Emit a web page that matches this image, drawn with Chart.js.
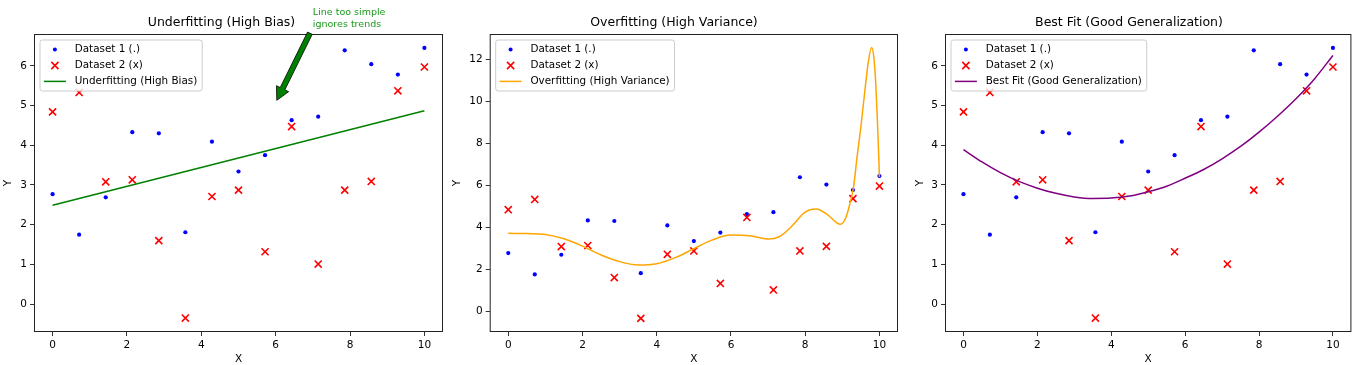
<!DOCTYPE html>
<html>
<head>
<meta charset="utf-8">
<script src="https://cdn.jsdelivr.net/npm/chart.js@4.4.0/dist/chart.umd.min.js"></script>
<style>
  body { margin: 0; background: #fff; }
  #wrap { position: relative; width: 1358px; height: 365px; }
  #wrap canvas { position: absolute; top: 0; }
</style>
</head>
<body>
<div id="wrap">
  <canvas id="under" width="450" height="365" style="left:0px"></canvas>
  <canvas id="over" width="455" height="365" style="left:450px"></canvas>
  <canvas id="best" width="453" height="365" style="left:905px"></canvas>
</div>
<script>
// shared sample points (15 evenly spaced x)
const xs = [0, 0.714, 1.429, 2.143, 2.857, 3.571, 4.286, 5, 5.714, 6.429, 7.143, 7.857, 8.571, 9.286, 10];
const dataset1 = [2.77, 1.75, 2.69, 4.33, 4.30, 1.81, 4.09, 3.34, 3.75, 4.63, 4.72, 6.39, 6.04, 5.78, 6.45];
const dataset2 = [4.84, 5.33, 3.08, 3.13, 1.60, -0.35, 2.71, 2.87, 1.32, 4.47, 1.01, 2.87, 3.09, 5.37, 5.97];

// fitted curves
const underX = [0, 10];
const underY = [2.49, 4.87];

const overX = [0, 0.5, 1, 1.5, 2, 2.5, 3, 3.5, 4, 4.5, 5, 5.5, 6, 6.5, 7, 7.3, 7.6, 8, 8.3, 8.6, 8.95, 9.1, 9.2, 9.3, 9.4, 9.5, 9.6, 9.7, 9.79, 9.85, 9.9, 9.95, 10];
const overY = [3.71, 3.70, 3.66, 3.45, 3.10, 2.68, 2.36, 2.20, 2.26, 2.55, 2.98, 3.40, 3.63, 3.60, 3.44, 3.55, 3.98, 4.72, 4.87, 4.60, 4.14, 4.48, 5.10, 5.90, 7.40, 8.80, 10.40, 11.90, 12.58, 12.10, 10.90, 8.90, 6.40];

const bestX = [0, 0.5, 1, 1.5, 2, 2.5, 3, 3.5, 4, 4.5, 5, 5.5, 6, 6.5, 7, 7.5, 8, 8.5, 9, 9.5, 10];
const bestY = [3.89, 3.58, 3.31, 3.09, 2.92, 2.79, 2.70, 2.66, 2.67, 2.72, 2.83, 2.97, 3.17, 3.39, 3.66, 3.97, 4.33, 4.73, 5.17, 5.67, 6.26];

const xTicks = [0, 2, 4, 6, 8, 10];
const yTicksSmall = [0, 1, 2, 3, 4, 5, 6];
const yTicksBig = [0, 2, 4, 6, 8, 10, 12];

const noteLines = ['Line too simple', 'ignores trends'];

Chart.defaults.font.family = '"DejaVu Sans", sans-serif';
Chart.defaults.color = '#000';

const toPts = (xa, ya) => xa.map((x, i) => ({x: x, y: ya[i]}));

// frame, legend and annotation drawn like matplotlib
const mplExtras = {
  id: 'mplExtras',
  afterDatasetsDraw(chart, args, opts) {
    const ctx = chart.ctx;
    const a = chart.chartArea;
    ctx.save();
    ctx.strokeStyle = '#222';
    ctx.lineWidth = 1;
    ctx.strokeRect(a.left + 0.5, a.top + 0.5, a.right - a.left - 1, a.bottom - a.top - 1);

    // legend
    const fs = 10.4, pad = 4.4, rowH = 10.4, gap = 5.5, handle = 22, textPad = 8.8;
    ctx.font = fs + 'px "DejaVu Sans"';
    const items = chart.data.datasets.slice().sort((p, q) => p.legendIndex - q.legendIndex);
    const tw = Math.max(...items.map(d => ctx.measureText(d.label).width));
    const lx = a.left + 5.5, ly = a.top + 5.5;
    const lw = pad * 2 + handle + textPad + tw;
    const lh = pad * 2 + rowH * 3 + gap * 2;
    ctx.beginPath();
    ctx.roundRect(lx + 0.5, ly + 0.5, lw, lh, 2.5);
    ctx.fillStyle = 'rgba(255,255,255,0.8)';
    ctx.fill();
    ctx.strokeStyle = '#cccccc';
    ctx.lineWidth = 1;
    ctx.stroke();
    items.forEach((d, i) => {
      const cy = ly + pad + rowH / 2 + i * (rowH + gap) + 0.5;
      const cx = lx + pad + handle / 2;
      if (d.legendKind === 'line') {
        ctx.beginPath();
        ctx.moveTo(lx + pad, cy);
        ctx.lineTo(lx + pad + handle, cy);
        ctx.strokeStyle = d.borderColor;
        ctx.lineWidth = 1.5;
        ctx.stroke();
      } else if (d.legendKind === 'dot') {
        ctx.beginPath();
        ctx.arc(cx, cy, 2, 0, Math.PI * 2);
        ctx.fillStyle = d.backgroundColor;
        ctx.fill();
      } else {
        const s = 3.6;
        ctx.beginPath();
        ctx.moveTo(cx - s, cy - s); ctx.lineTo(cx + s, cy + s);
        ctx.moveTo(cx - s, cy + s); ctx.lineTo(cx + s, cy - s);
        ctx.strokeStyle = d.borderColor;
        ctx.lineWidth = 1.6;
        ctx.stroke();
      }
      ctx.fillStyle = '#000';
      ctx.textBaseline = 'middle';
      ctx.textAlign = 'left';
      ctx.fillText(d.label, lx + pad + handle + textPad, cy);
    });

    // annotation arrow
    if (opts.note) {
      const n = opts.note;
      const xs_ = chart.scales.x, ys_ = chart.scales.y;
      const tx = xs_.getPixelForValue(n.tail.x), ty = ys_.getPixelForValue(n.tail.y);
      const hx = xs_.getPixelForValue(n.tip.x), hy = ys_.getPixelForValue(n.tip.y);
      const len = Math.hypot(hx - tx, hy - ty);
      const ux = (hx - tx) / len, uy = (hy - ty) / len;
      const nx = -uy, ny = ux;
      const w = 2.6, hw = 6.8, hl = 13;
      const bx = hx - ux * hl, by = hy - uy * hl;
      ctx.beginPath();
      ctx.moveTo(tx + nx * w, ty + ny * w);
      ctx.lineTo(bx + nx * w, by + ny * w);
      ctx.lineTo(bx + nx * hw, by + ny * hw);
      ctx.lineTo(hx, hy);
      ctx.lineTo(bx - nx * hw, by - ny * hw);
      ctx.lineTo(bx - nx * w, by - ny * w);
      ctx.lineTo(tx - nx * w, ty - ny * w);
      ctx.closePath();
      ctx.fillStyle = '#008000';
      ctx.fill();
      ctx.strokeStyle = '#000';
      ctx.lineWidth = 0.8;
      ctx.stroke();

      ctx.font = '9.5px "DejaVu Sans"';
      ctx.fillStyle = '#1a9a1a';
      ctx.textAlign = 'left';
      ctx.textBaseline = 'alphabetic';
      const px = xs_.getPixelForValue(n.text.x), py = ys_.getPixelForValue(n.text.y);
      const lineGap = 11.5;
      n.lines.forEach((t, i) => {
        ctx.fillText(t, px, py - (n.lines.length - 1 - i) * lineGap);
      });
    }
    ctx.restore();
  }
};

function makePanel(id, title, fitLabel, fitColor, fitX, fitY, yMin, yMax, yTicks, leftW, padR, yTitlePad, note) {
  return new Chart(document.getElementById(id), {
    type: 'scatter',
    data: {
      datasets: [
        {
          label: fitLabel,
          data: toPts(fitX, fitY),
          showLine: true,
          borderColor: fitColor,
          borderWidth: 1.5,
          pointRadius: 0,
          cubicInterpolationMode: 'monotone',
          order: 0,
          legendIndex: 2,
          legendKind: 'line',
        },
        {
          label: 'Dataset 2 (x)',
          data: toPts(xs, dataset2),
          pointStyle: 'crossRot',
          pointRadius: 5,
          borderColor: '#ff0000',
          backgroundColor: '#ff0000',
          pointBorderWidth: 1.6,
          order: 1,
          legendIndex: 1,
          legendKind: 'x',
        },
        {
          label: 'Dataset 1 (.)',
          data: toPts(xs, dataset1),
          pointRadius: 2.1,
          borderWidth: 0,
          backgroundColor: '#0000ff',
          borderColor: '#0000ff',
          order: 2,
          legendIndex: 0,
          legendKind: 'dot',
        },
      ],
    },
    options: {
      responsive: false,
      animation: false,
      layout: { padding: { left: 0, right: padR, top: 0, bottom: 0 } },
      plugins: {
        legend: { display: false },
        tooltip: { enabled: false },
        title: {
          display: true,
          text: title,
          font: { size: 12.5, weight: 'normal' },
          color: '#000',
          padding: { top: 15.5, bottom: 3.5 },
        },
        mplExtras: { note: note },
      },
      scales: {
        x: {
          type: 'linear',
          min: -0.5,
          max: 10.5,
          afterBuildTicks: s => { s.ticks = xTicks.map(v => ({value: v})); },
          afterFit: s => { s.height = 33; },
          ticks: { font: { size: 10.5 }, padding: 3, maxRotation: 0 },
          grid: { display: true, drawOnChartArea: false, drawTicks: true, tickLength: 4, color: '#000', lineWidth: 0.8 },
          border: { display: false },
          title: { display: true, text: 'X', font: { size: 10.5, lineHeight: 1 }, padding: { top: 0, bottom: 0 } },
        },
        y: {
          type: 'linear',
          min: yMin,
          max: yMax,
          afterBuildTicks: s => { s.ticks = yTicks.map(v => ({value: v})); },
          afterFit: s => { s.width = leftW; },
          ticks: { font: { size: 10.5 }, padding: 3 },
          grid: { display: true, drawOnChartArea: false, drawTicks: true, tickLength: 4, color: '#000', lineWidth: 0.8 },
          border: { display: false },
          title: { display: true, text: 'Y', font: { size: 10.5, lineHeight: 1 }, padding: { top: yTitlePad, bottom: 0 } },
        },
      },
    },
    plugins: [mplExtras],
  });
}

makePanel('under', 'Underfitting (High Bias)', 'Underfitting (High Bias)', '#008000', underX, underY,
  -0.70, 6.80, yTicksSmall, 34, 7, 2.7,
  { tip: {x: 6.03, y: 5.13}, tail: {x: 6.92, y: 6.82}, text: {x: 7.0, y: 6.98}, lines: noteLines });
makePanel('over', 'Overfitting (High Variance)', 'Overfitting (High Variance)', '#ffa500', overX, overY,
  -1.00, 13.23, yTicksBig, 39.7, 7, 2.0, null);
makePanel('best', 'Best Fit (Good Generalization)', 'Best Fit (Good Generalization)', '#800080', bestX, bestY,
  -0.70, 6.80, yTicksSmall, 40, 5, 9.7, null);
</script>
</body>
</html>
